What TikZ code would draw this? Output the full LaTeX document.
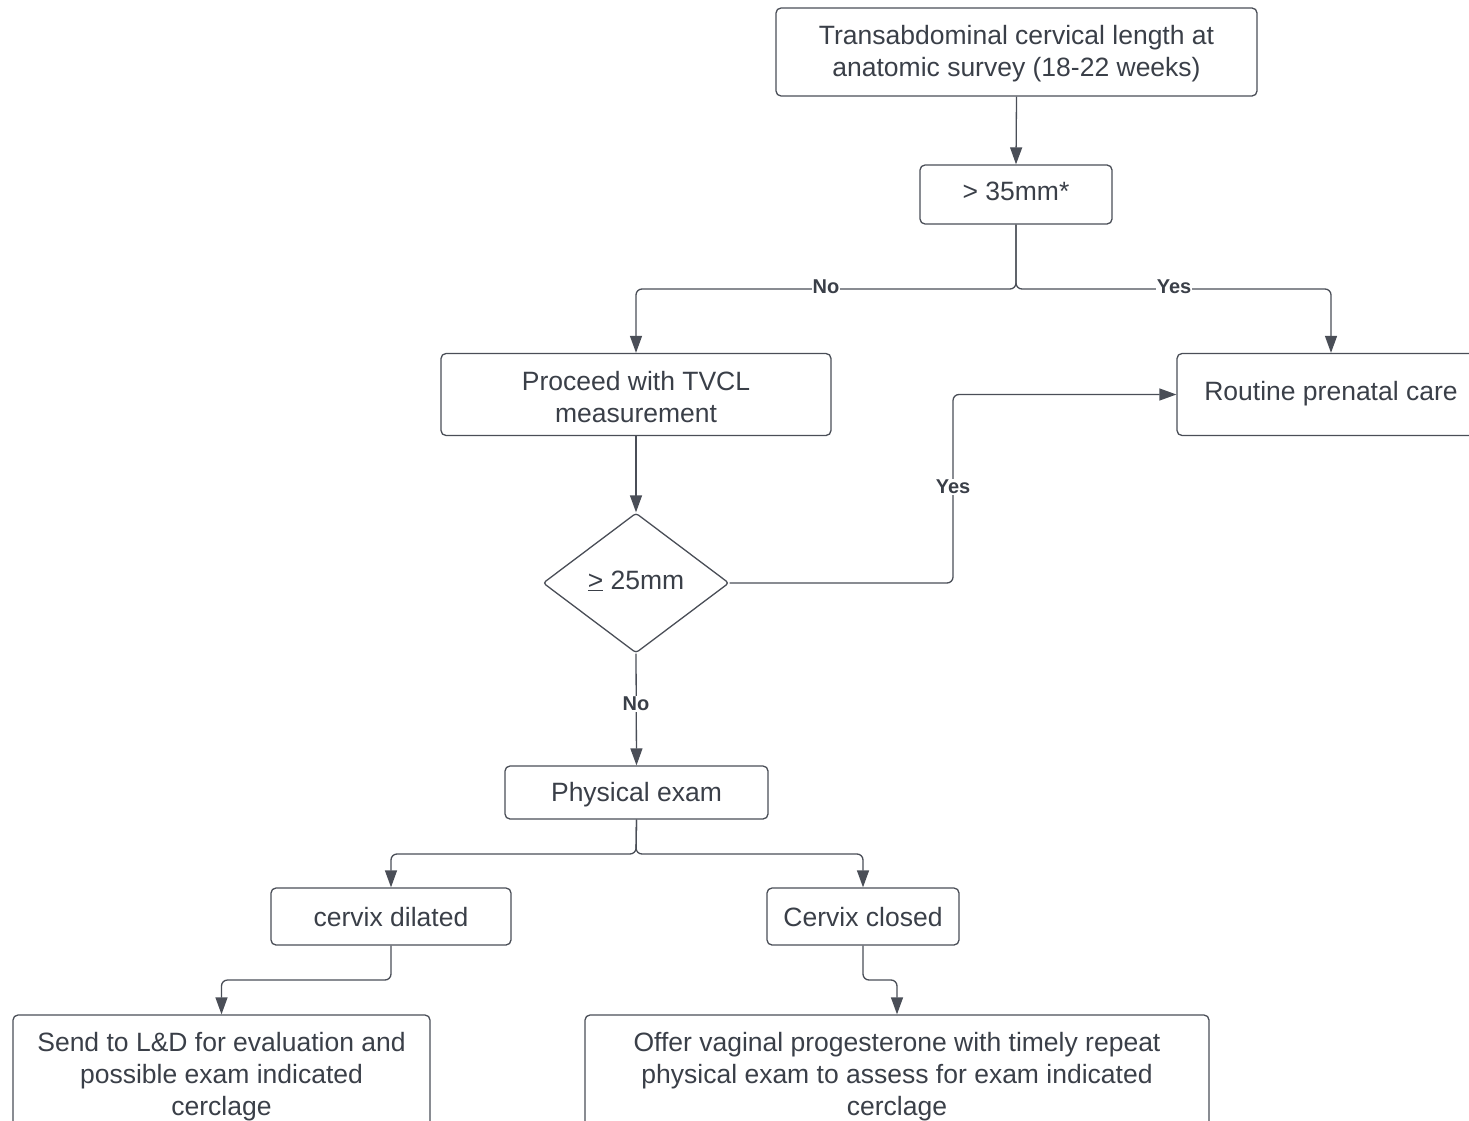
\documentclass[tikz,border=0pt]{standalone}
\usepackage{fontspec}
\setmainfont{Liberation Sans}
\usetikzlibrary{arrows.meta,shapes.geometric}
\definecolor{ink}{HTML}{3A3F48}
\definecolor{edgec}{HTML}{4A4E57}
\newcommand\bxtext[2]{\raisebox{#1}[\height][\depth]{\begin{tabular}{@{}c@{}}#2\end{tabular}}}
\begin{document}
\begin{tikzpicture}[x=1pt,y=-1pt,
  box/.style={draw=edgec, line width=1.3pt, rounded corners=5pt, text=ink, align=center, inner sep=0pt, font=\fontsize{26.5}{32}\selectfont},
  conn/.style={draw=edgec, line width=1.3pt, rounded corners=6pt},
  arr/.style={conn, -{Triangle[length=17pt,width=12pt]}},
  lbl/.style={font=\bfseries\fontsize{20}{24}\selectfont, text=ink, fill=white, inner sep=1pt}
]
\useasboundingbox (0,0) rectangle (1469,1121);
\clip (0,0) rectangle (1469,1121);
\node[box, minimum width=481pt, minimum height=88pt] (ta) at (1016.5,52) {\bxtext{-2pt}{Transabdominal cervical length at\\anatomic survey (18-22 weeks)}};
\node[box, minimum width=192pt, minimum height=59pt] (gt) at (1016,194.5) {\bxtext{0pt}{> 35mm*}};
\node[box, minimum width=390pt, minimum height=82pt] (tv) at (636,394.5) {\bxtext{-6pt}{Proceed with TVCL\\measurement}};
\node[box, minimum width=308pt, minimum height=82pt] (rp) at (1331,394.5) {\bxtext{0pt}{Routine prenatal care}};
\node[draw=edgec, line width=1.3pt, shape=diamond, rounded corners=3pt, minimum width=186pt, minimum height=140pt, inner sep=0pt, text=ink, font=\fontsize{26.5}{32}\selectfont] (dm) at (636,583) {\raisebox{2pt}[\height][\depth]{\underline{>} 25mm}};
\node[box, minimum width=263pt, minimum height=53pt] (pe) at (636.5,792.5) {\bxtext{-3pt}{Physical exam}};
\node[box, minimum width=240pt, minimum height=57pt] (cd) at (391,916.5) {\bxtext{-4pt}{cervix dilated}};
\node[box, minimum width=192pt, minimum height=57pt] (cc) at (863,916.5) {\bxtext{-4pt}{Cervix closed}};
\node[box, minimum width=417pt, minimum height=118pt] (sl) at (221.5,1074) {\bxtext{-3pt}{Send to L\&D for evaluation and\\possible exam indicated\\cerclage}};
\node[box, minimum width=624pt, minimum height=118pt] (ov) at (897,1074) {\bxtext{-3pt}{Offer vaginal progesterone with timely repeat\\physical exam to assess for exam indicated\\cerclage}};

\coordinate (j1) at (1016,289);
\coordinate (j2) at (953,583);
\coordinate (j3) at (636,854);
\coordinate (j4) at (391,980);
\coordinate (j5) at (863,980);

\draw[arr] (ta.south) -- (gt.north);
\draw[arr] (gt.south) -- (j1) -| (tv.north);
\draw[arr] (gt.south) -- (j1) -| (rp.north);
\draw[arr] (tv.south) -- (dm.north);
\draw[arr] (dm.east) -- (j2) |- (rp.west);
\draw[arr] (dm.south) -- (pe.north);
\draw[arr] (pe.south) -- (j3) -| (cd.north);
\draw[arr] (pe.south) -- (j3) -| (cc.north);
\draw[arr] (cd.south) -- (j4) -| (sl.north);
\draw[arr] (cc.south) -- (j5) -| (ov.north);

\node[lbl] (l1) at (826,287) {No};
\node[lbl] (l2) at (1174,287) {Yes};
\node[lbl] (l3) at (953,487) {Yes};
\node[lbl] (l4) at (636,704) {No};
\end{tikzpicture}
\end{document}
